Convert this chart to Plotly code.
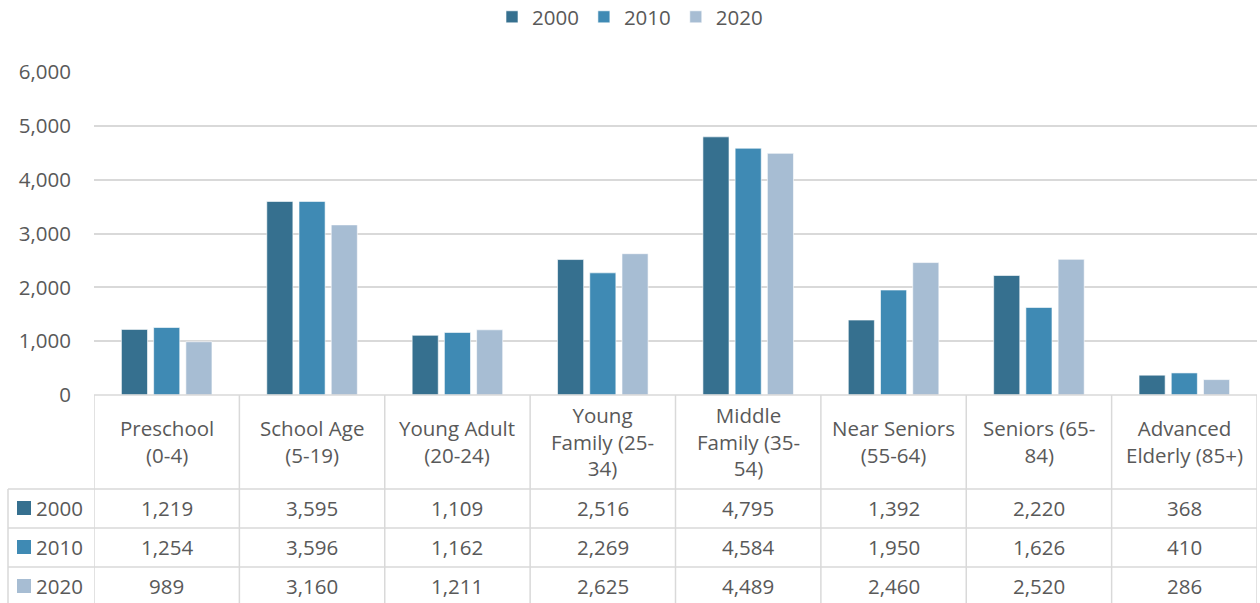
import plotly.graph_objects as go

# Population by age group
categories = [
    "Preschool<br>(0-4)",
    "School Age<br>(5-19)",
    "Young Adult<br>(20-24)",
    "Young<br>Family (25-<br>34)",
    "Middle<br>Family (35-<br>54)",
    "Near Seniors<br>(55-64)",
    "Seniors (65-<br>84)",
    "Advanced<br>Elderly (85+)",
]
years = ["2000", "2010", "2020"]
pop_2000 = [1219, 3595, 1109, 2516, 4795, 1392, 2220, 368]
pop_2010 = [1254, 3596, 1162, 2269, 4584, 1950, 1626, 410]
pop_2020 = [989, 3160, 1211, 2625, 4489, 2460, 2520, 286]
series = [pop_2000, pop_2010, pop_2020]
colors = ["#36708f", "#3f8ab4", "#a7bdd3"]

W, H = 1260, 603
TEXT = "#595959"
GRID = "#d9d9d9"
FONT = "Open Sans"
FS = 20.5


def py(px):
    """Convert a pixel row (from top) to paper y."""
    return 1 - px / H


def px_x(px):
    return px / W


x_idx = list(range(len(categories)))

fig = go.Figure()
for name, vals, col in zip(years, series, colors):
    fig.add_trace(go.Bar(
        x=x_idx, y=vals, name=name,
        marker=dict(color=col, line=dict(color="rgba(255,255,255,0.6)", width=1)),
    ))

plot_left, plot_right = 94, 1257
axis_top, axis_bottom = 72, 395
header_bottom = 489
row_lines = [489, 528, 567]
row_centers = [508, 547, 586]
left_edge = 8

shapes = []
line_style = dict(color=GRID, width=1.5)
# vertical separators between category columns
for i in range(len(categories) + 1):
    shapes.append(dict(type="line", xref="x", yref="paper",
                       x0=i - 0.5, x1=i - 0.5, y0=py(axis_bottom), y1=py(H + 5),
                       line=line_style, layer="below"))
# horizontal row separators
for r in row_lines:
    shapes.append(dict(type="line", xref="paper", yref="paper",
                       x0=px_x(left_edge), x1=px_x(plot_right), y0=py(r), y1=py(r),
                       line=line_style))
# left edge of the series label column
shapes.append(dict(type="line", xref="paper", yref="paper",
                   x0=px_x(left_edge), x1=px_x(left_edge), y0=py(header_bottom), y1=py(H + 5),
                   line=line_style))
# table top edge along the baseline
shapes.append(dict(type="line", xref="paper", yref="paper",
                   x0=px_x(plot_left), x1=px_x(plot_right), y0=py(axis_bottom), y1=py(axis_bottom),
                   line=line_style))

annotations = []
# category headers
for i, cat in enumerate(categories):
    annotations.append(dict(x=i, xref="x", y=py((axis_bottom + header_bottom) / 2 - 1), yref="paper",
                            text=cat, showarrow=False, yanchor="middle", xanchor="center",
                            align="center", font=dict(family=FONT, size=FS, color=TEXT)))
# table values and row keys
for name, vals, col, yc in zip(years, series, colors, row_centers):
    for i, v in enumerate(vals):
        annotations.append(dict(x=i, xref="x", y=py(yc), yref="paper",
                                text=f"{v:,}", showarrow=False, yanchor="middle",
                                xanchor="center", font=dict(family=FONT, size=FS, color=TEXT)))
    shapes.append(dict(type="rect", xref="paper", yref="paper",
                       x0=px_x(17), x1=px_x(31), y0=py(yc + 7), y1=py(yc - 7),
                       fillcolor=col, line=dict(width=0)))
    annotations.append(dict(x=px_x(34), xref="paper", y=py(yc), yref="paper",
                            text=name, showarrow=False, yanchor="middle", xanchor="left",
                            font=dict(family=FONT, size=FS, color=TEXT)))

fig.update_layout(
    width=W, height=H, autosize=False,
    margin=dict(l=0, r=0, t=0, b=0, autoexpand=False),
    paper_bgcolor="white", plot_bgcolor="white",
    barmode="group", bargap=0.335, bargroupgap=0.19,
    font=dict(family=FONT, color=TEXT, size=FS),
    showlegend=True,
    legend=dict(orientation="h", x=0.5, xanchor="center", y=1.005, yanchor="top",
                font=dict(family=FONT, size=FS, color=TEXT), itemwidth=30,
                traceorder="normal", bgcolor="rgba(0,0,0,0)"),
    xaxis=dict(domain=[px_x(plot_left), px_x(plot_right)], range=[-0.5, len(categories) - 0.5],
               showticklabels=False, showgrid=False, zeroline=False, showline=False, ticks=""),
    yaxis=dict(domain=[py(axis_bottom), py(axis_top)], range=[0, 6000], dtick=1000,
               tickformat=",", showgrid=True, gridcolor=GRID, gridwidth=1.5,
               zeroline=False, showline=False, ticks="", ticklabelstandoff=22,
               tickfont=dict(family=FONT, size=FS, color=TEXT)),
    shapes=shapes,
    annotations=annotations,
)

fig.write_html("out.html")
